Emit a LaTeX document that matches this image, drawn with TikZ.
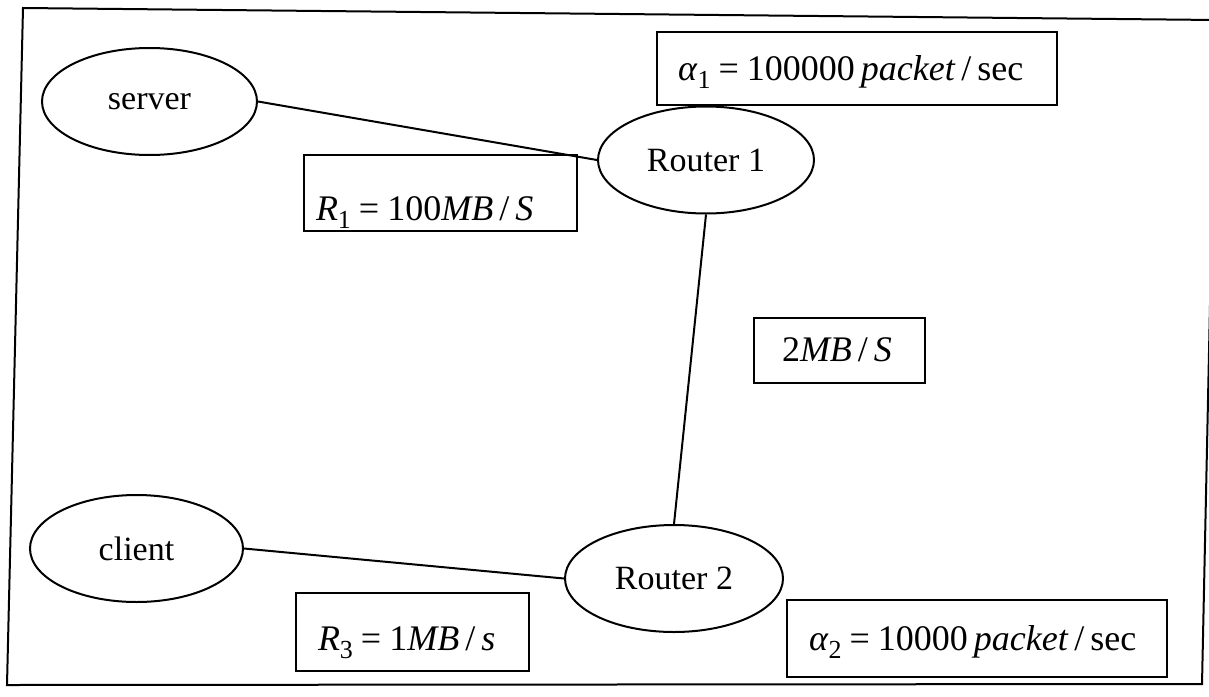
\documentclass[tikz,border=0pt]{standalone}
\usepackage{fontspec}
\setmainfont{Liberation Serif}
\usetikzlibrary{shapes.geometric}
% lowered index after a symbol
\newcommand\subsc[1]{\raisebox{-4pt}{\fontsize{13}{13}\selectfont #1}}
% equals sign with spacing
\newcommand\eqsp{\hspace{4pt}=\hspace{4pt}}
\begin{document}
\begin{tikzpicture}[x=0.5pt,y=-0.5pt,
  frame/.style={line width=1pt},
  host/.style={ellipse,draw,line width=1pt,inner sep=0pt,
    font=\fontsize{17}{20}\selectfont},
  lbox/.style={rectangle,draw,line width=1.2pt,inner ysep=0pt,align=left,
    font=\fontsize{18}{21}\selectfont},
  link/.style={line width=1pt}]
\useasboundingbox (0,0) rectangle (1209,696);
% outer frame
\draw[frame] (23,8) -- (1216,20) -- (1202,684) -- (7,685) -- cycle;

% hosts and routers
\node[host,minimum width=107.5pt,minimum height=53.5pt] (server) at (149.5,101.5) {server};
\node[host,minimum width=108pt,minimum height=53.5pt] (r1) at (706,160) {Router 1};
\node[host,minimum width=109pt,minimum height=53.5pt] (r2) at (674,578.5) {Router 2};
\node[host,minimum width=106.5pt,minimum height=53.5pt] (client) at (136.5,548.5) {client};

% links
\draw[link] (server.east) -- (r1.west);
\draw[link] (r1.south) -- (r2.north);
\draw[link] (client.east) -- (r2.west);

% rate labels
\node[lbox,minimum width=200pt,minimum height=36.5pt,inner xsep=10.5pt,
  text width=179pt,text height=24pt,text depth=12.5pt] (a1) at (857,68.5)
  {\textit{α}\subsc{1}\eqsp 100000\,\textit{packet}\,/\,sec};
\node[lbox,minimum width=136.5pt,minimum height=38pt,inner xsep=6pt,
  text width=124.5pt,text height=32.5pt,text depth=5.5pt] (rate1) at (440.5,193)
  {\textit{R}\subsc{1}\eqsp 100\textit{MB}\,/\,\textit{S}};
\node[lbox,minimum width=85.5pt,minimum height=32.5pt,inner xsep=14pt,
  text width=57.5pt,text height=21.5pt,text depth=11pt] (rate2) at (839.5,350.5)
  {2\textit{MB}\,/\,\textit{S}};
\node[lbox,minimum width=116.5pt,minimum height=39pt,inner xsep=11pt,
  text width=94.5pt,text height=28.5pt,text depth=10.5pt] (rate3) at (412.5,632)
  {\textit{R}\subsc{3}\eqsp 1\textit{MB}\,/\,\textit{s}};
\node[lbox,minimum width=190pt,minimum height=38.5pt,inner xsep=11pt,
  text width=168pt,text height=25pt,text depth=13.5pt] (a2) at (977,638.5)
  {\textit{α}\subsc{2}\eqsp 10000\,\textit{packet}\,/\,sec};
\end{tikzpicture}
\end{document}
